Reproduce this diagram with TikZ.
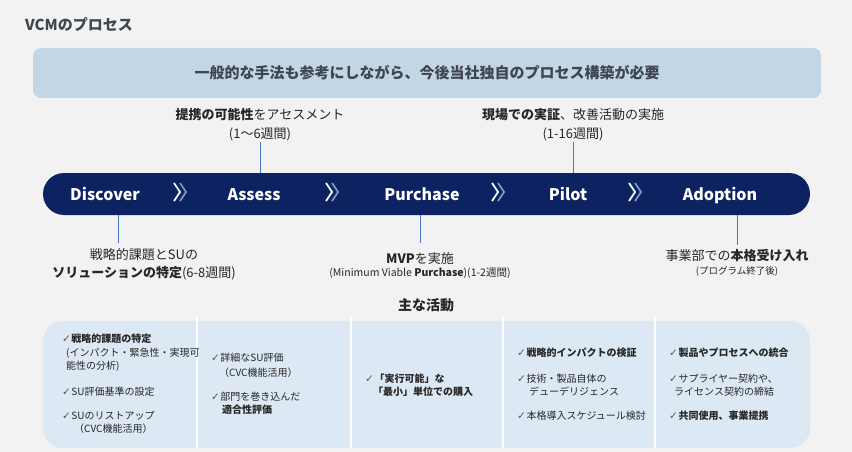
\documentclass[tikz,border=0pt]{standalone}
\usepackage{fontspec}
\setmainfont{Noto Sans CJK JP}
\newfontfamily\symfont{DejaVu Sans}
\usetikzlibrary{positioning}

\definecolor{bggray}{HTML}{F2F2F2}
\definecolor{topblue}{HTML}{C3D6E6}
\definecolor{actblue}{HTML}{DDE8F5}
\definecolor{navy}{HTML}{0C2261}
\definecolor{chevshade}{HTML}{8193C2}
\definecolor{linkblue}{HTML}{4A76C6}
\definecolor{ttlgray}{HTML}{404650}
\definecolor{txtdark}{HTML}{262626}
\definecolor{chkgray}{HTML}{595959}

\newcommand{\chk}{{\symfont\fontsize{10.5}{9}\selectfont\color{chkgray}✓}\hspace{0.5pt}}

\begin{document}
\begin{tikzpicture}[x=1pt,y=1pt]
    \tikzstyle{every node}=[inner sep=0,text=txtdark]
    \tikzstyle{note}=[align=center,font=\fontsize{13}{19}\selectfont]
    \tikzstyle{small}=[font=\fontsize{9.5}{11}\selectfont]
    \tikzstyle{phase}=[anchor=base,text=white,font=\fontsize{16}{18}\selectfont\bfseries]
    \tikzstyle{chev}=[line width=1.8,line join=miter]
    \tikzstyle{link}=[draw=linkblue,line width=0.8]
    \tikzstyle{item}=[anchor=west,align=left,font=\fontsize{10}{13.5}\selectfont]
    \tikzstyle{sep}=[draw=white,line width=1.2]

    \useasboundingbox (0,0) rectangle (852,-452);
    \fill[bggray] (0,0) rectangle (852,-452);

    % heading and message
    \node[anchor=west,text=ttlgray,font=\fontsize{15}{17}\selectfont\bfseries] (title) at (25,-25) {VCMのプロセス};
    \node[fill=topblue,rounded corners=8,minimum width=788,minimum height=50,
          text=ttlgray,font=\fontsize{15}{17}\selectfont\bfseries] (msg) at (427,-73)
          {一般的な手法も参考にしながら、今後当社独自のプロセス構築が必要};

    % process bar
    \node[fill=navy,rounded corners=21,minimum width=767,minimum height=42] (bar) at (426.5,-194) {};
    \foreach \name/\x/\lbl in {disc/105/Discover,assess/254/Assess,purch/422/Purchase,pilot/568/Pilot,adopt/720/Adoption}
        \node[phase] (\name) at (\x,-200) {\lbl};
    \foreach \x in {174,326,492,629} {
        \draw[chev,chevshade] (\x+6,-183) -- (\x+12,-192) -- (\x+6,-201);
        \draw[chev,white] (\x,-183) -- (\x+6,-192) -- (\x,-201);
    }

    % notes above the bar
    \node[note] (assessnote) at (260,-125) {\textbf{提携の可能性}をアセスメント\\(1〜6週間)};
    \node[note] (pilotnote) at (573,-125) {\textbf{現場での実証}、改善活動の実施\\(1-16週間)};
    \draw[link] (assessnote.south) -- (assessnote.south |- bar.north);
    \draw[link] (pilotnote.south) -- (pilotnote.south |- bar.north);

    % notes below the bar
    \node[note,font=\fontsize{13}{18}\selectfont] (discnote) at (144,-264) {戦略的課題とSUの\\\textbf{ソリューションの特定}(6-8週間)};
    \node[note] (mvpnote) at (420,-259) {\textbf{MVP}を実施};
    \node[small,font=\fontsize{10.5}{12}\selectfont] (mvpsub) at (420,-273) {(Minimum Viable \textbf{Purchase})(1-2週間)};
    \node[note] (adoptnote) at (737,-256) {事業部での\textbf{本格受け入れ}};
    \node[small] (adoptsub) at (737,-271) {(プログラム終了後)};
    \coordinate (disclink) at (118,-243);
    \coordinate (mvplink) at (420,-243);
    \coordinate (adoptlink) at (737,-245);
    \draw[link] (bar.south -| disclink) -- (disclink);
    \draw[link] (bar.south -| mvplink) -- (mvplink);
    \draw[link] (bar.south -| adoptlink) -- (adoptlink);

    % main activities
    \node[font=\fontsize{14}{16}\selectfont\bfseries] (acthead) at (426,-305) {主な活動};
    \node[fill=actblue,rounded corners=20,minimum width=767,minimum height=127] (acts) at (426.5,-384.5) {};
    \foreach \x in {197,351,503,655}
        \draw[sep] (\x,-317) -- (\x,-448);

    \node[item] (d1) at (62,-353) {\chk\textbf{戦略的課題の特定}\\\hspace*{4pt}(インパクト・緊急性・実現可\\\hspace*{4pt}能性の分析)};
    \node[item] (d2) at (62,-392) {\chk SU評価基準の設定};
    \node[item] (d3) at (62,-422.5) {\chk SUのリストアップ\\\hspace*{12pt}（CVC機能活用）};

    \node[item,font=\fontsize{10}{15}\selectfont] (a1) at (211,-365.5) {\chk 詳細なSU評価\\\hspace*{8pt}（CVC機能活用）};
    \node[item] (a2) at (211,-403.5) {\chk 部門を巻き込んだ\\\hspace*{11pt}\textbf{適合性評価}};

    \node[item] (p1) at (365,-385) {\chk\textbf{「実行可能」な}\\\hspace*{8pt}\textbf{「最小」単位での購入}};

    \node[item] (t1) at (517,-353) {\chk\textbf{戦略的インパクトの検証}};
    \node[item] (t2) at (517,-385) {\chk 技術・製品自体の\\\hspace*{12pt}デューデリジェンス};
    \node[item] (t3) at (517,-416) {\chk 本格導入スケジュール検討};

    \node[item] (o1) at (669,-353) {\chk\textbf{製品やプロセスへの統合}};
    \node[item] (o2) at (669,-385) {\chk サプライヤー契約や、\\\hspace*{5pt}ライセンス契約の締結};
    \node[item] (o3) at (669,-416) {\chk\textbf{共同使用、事業提携}};
\end{tikzpicture}
\end{document}
